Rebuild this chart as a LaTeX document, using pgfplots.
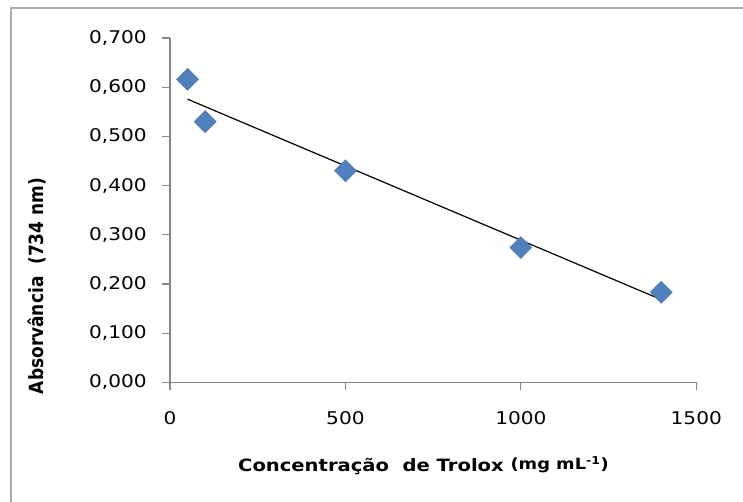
\documentclass[border=0pt]{standalone}
\usepackage{pgfplots}
\pgfplotsset{compat=1.18}
\usepackage{pgfplotstable}
\usepackage{graphicx}
\usepackage{fontspec}
\setmainfont{DejaVu Sans}
\newfontfamily\tickfont{DejaVu Sans}[FakeStretch=1.15]
\newfontfamily\labfont{DejaVu Sans}[FakeStretch=1.15]

\definecolor{excelblue}{HTML}{4F81BD}
\definecolor{axisgray}{HTML}{868686}
\definecolor{bordergray}{HTML}{ABABAB}

\pgfplotstableread{
x y
50 0.616
100 0.530
500 0.430
1000 0.274
1400 0.183
}\datatable

\begin{document}
\begin{tikzpicture}[x=1bp,y=1bp]
\useasboundingbox (0,0) rectangle (743bp,502bp);
\clip (0,0) rectangle (743bp,502bp);
\draw[bordergray, line width=2bp] (11bp,-10bp) rectangle (760bp,494bp);
\begin{axis}[
  at={(170bp,119.7bp)}, anchor=south west,
  scale only axis, width=526.3bp, height=344.3bp,
  xmin=0, xmax=1500, ymin=0, ymax=0.7,
  axis lines=left,
  axis line style={draw=axisgray, line width=1.2bp, -},
  xtick={0,500,1000,1500},
  ytick={0,0.1,0.2,0.3,0.4,0.5,0.6,0.7},
  minor tick num=0,
  tick style={draw=axisgray, line width=1.2bp},
  tick align=outside,
  major tick length=8bp,
  ticklabel style={font=\tickfont\fontsize{17.5bp}{20bp}\selectfont, text=black, inner sep=0pt},
  /pgf/number format/assume math mode=true,
  yticklabel style={anchor=east, xshift=-15bp,
    /pgf/number format/.cd, fixed, fixed zerofill, precision=3, use comma},
  xticklabel style={anchor=north, yshift=-21bp,
    /pgf/number format/.cd, set thousands separator={}},
  clip=false,
]
\addplot[only marks, mark=square*, mark size=7.8bp,
  mark options={rotate=45, fill=excelblue, draw=excelblue!90!black, line width=0.4bp}]
  table[x=x, y=y] {\datatable};
\addplot[black, line width=1.2bp, no marks]
  table[x=x, y={create col/linear regression={y=y}}] {\datatable};
\end{axis}
\node[rotate=90, anchor=center, inner sep=0pt] at (37bp,216bp)
  {\scalebox{1}[1.15]{\fontsize{17bp}{19bp}\selectfont\bfseries Absorvância\ \ (734 nm)}};
\node[anchor=base west, inner sep=0pt] at (238bp,31bp)
  {\labfont\bfseries\fontsize{17bp}{20bp}\selectfont Concentração\ \ de Trolox \raisebox{1.5bp}{\fontsize{15.5bp}{17bp}\selectfont(mg mL\textsuperscript{-1})}};
\end{tikzpicture}
\end{document}
